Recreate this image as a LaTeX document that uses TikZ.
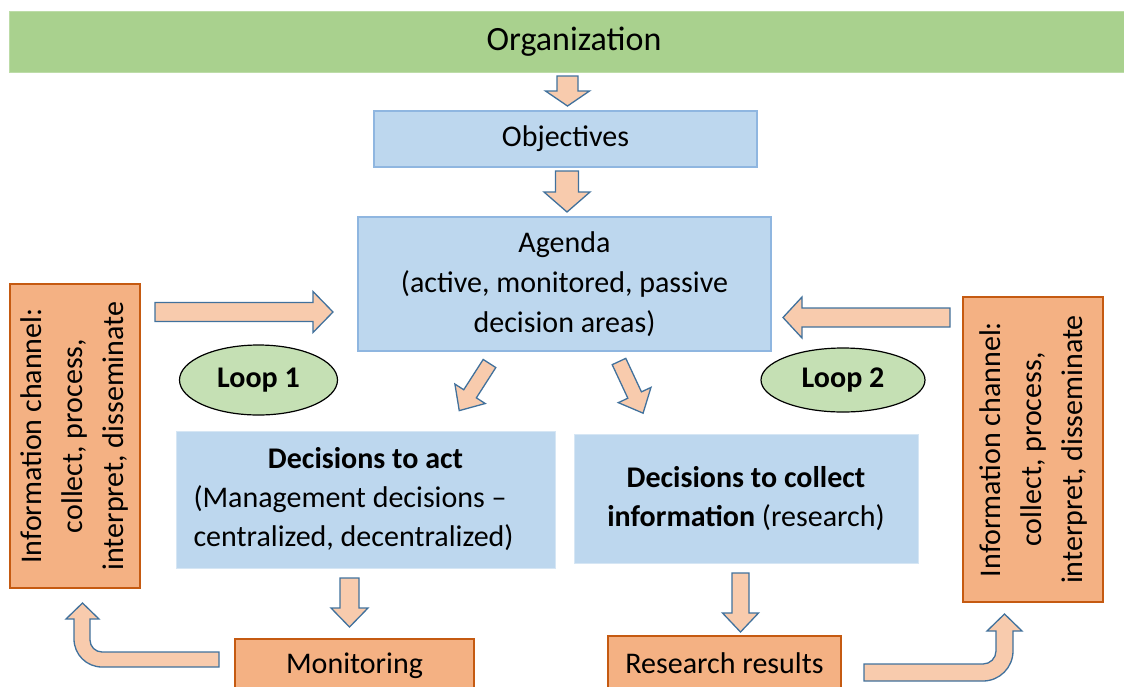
\documentclass[tikz,border=0pt]{standalone}
\usepackage{fontspec}
\setmainfont{Carlito}
\usetikzlibrary{shapes.geometric}
\definecolor{orgGreen}{HTML}{A9D18E}
\definecolor{orgGreenLine}{HTML}{BDDCA8}
\definecolor{boxBlue}{HTML}{BDD7EE}
\definecolor{boxBlueLine}{HTML}{8FB6E0}
\definecolor{decLine}{HTML}{D6E6F4}
\definecolor{boxOrange}{HTML}{F4B183}
\definecolor{boxOrangeLine}{HTML}{C55A11}
\definecolor{loopGreen}{HTML}{C5E0B4}
\definecolor{arrowFill}{HTML}{F8CBAD}
\definecolor{arrowLine}{HTML}{41719C}
% block arrow: tail x, tail y, angle, length, shaft width, head width, head length
\newcommand\barrow[7]{%
  \draw[barrowstyle, shift={(#1,#2)}, rotate=#3]
    (0,{-#5/2}) -- ({#4-#7},{-#5/2}) -- ({#4-#7},{-#6/2}) -- (#4,0)
    -- ({#4-#7},{#6/2}) -- ({#4-#7},{#5/2}) -- (0,{#5/2}) -- cycle;}
\begin{document}
\begin{tikzpicture}[x=1pt,y=-1pt,
  every node/.style={inner sep=0pt, outer sep=0pt},
  txt/.style={font=\fontsize{30pt}{40pt}\selectfont, align=center},
  greenbox/.style={txt, fill=orgGreen, draw=orgGreenLine, line width=1pt, anchor=north west},
  bluebox/.style={txt, fill=boxBlue, draw=boxBlueLine, line width=1.2pt, anchor=north west},
  decbox/.style={txt, fill=boxBlue, draw=decLine, line width=1pt, anchor=north west},
  orangebox/.style={txt, fill=boxOrange, draw=boxOrangeLine, line width=1.5pt},
  loopell/.style={txt, ellipse, fill=loopGreen, draw=black, line width=1.2pt, font=\fontsize{30pt}{40pt}\selectfont\bfseries},
  barrowstyle/.style={fill=arrowFill, draw=arrowLine, line width=1.3pt, line join=miter},
]
\useasboundingbox (0,0) rectangle (1124,686);
\clip (0,0) rectangle (1124,686);

% boxes
\node[greenbox, minimum width=1130pt, minimum height=61pt, font=\fontsize{34pt}{40pt}\selectfont] (org) at (9,11) {Organization};
\node[bluebox, minimum width=383pt, minimum height=56pt] (obj) at (374,111) {Objectives};
\node[bluebox, minimum width=413pt, minimum height=134pt] (agenda) at (358,217)
  {Agenda\\(active, monitored, passive\\decision areas)};
\node[decbox, minimum width=379pt, minimum height=137pt, align=left,
      font=\fontsize{30pt}{39pt}\selectfont] (act) at (176,431)
  {\makebox[344pt]{\bfseries Decisions to act}\\(Management decisions –\\centralized, decentralized)};
\node[decbox, minimum width=344pt, minimum height=129pt, font=\fontsize{30pt}{39pt}\selectfont] (collect) at (574,434)
  {\textbf{Decisions to collect}\\\textbf{information} (research)};
\node[orangebox, rotate=90, minimum width=304pt, minimum height=130pt, font=\fontsize{30pt}{41pt}\selectfont] (infoL) at (75,436)
  {Information channel:\\collect, process,\\interpret, disseminate};
\node[orangebox, rotate=90, minimum width=305pt, minimum height=140pt, font=\fontsize{30pt}{41pt}\selectfont] (infoR) at (1033,449.5)
  {Information channel:\\collect, process,\\interpret, disseminate};
\node[orangebox, anchor=north west, minimum width=239pt, minimum height=54pt] (mon) at (235,639) {Monitoring};
\node[orangebox, anchor=north west, minimum width=233pt, minimum height=54pt] (res) at (608,636) {Research results};

% loops
\node[loopell, minimum width=158pt, minimum height=70pt] (loop1) at (258.5,380) {Loop 1};
\node[loopell, minimum width=164pt, minimum height=64pt] (loop2) at (843,380) {Loop 2};

% block arrows
\barrow{567.5}{76}{-90}{30}{21}{44}{15}
\barrow{567}{171}{-90}{41}{23}{46}{20}
\barrow{155}{312}{0}{178}{19}{41}{20}
\barrow{950}{317.5}{180}{167}{19}{41}{19}
\barrow{489.5}{363.5}{-122.7}{56}{15}{36}{20}
\barrow{619}{361.5}{-65}{57}{15}{36}{20}
\barrow{349.5}{578}{-90}{49}{19}{37}{19}
\barrow{740.5}{573}{-90}{59}{17}{36}{19}

% bent arrow left (Monitoring -> left information channel)
\draw[barrowstyle] (219,652) -- (102,652) arc[start angle=90, end angle=180, radius=12]
  -- (90,619) -- (99,619) -- (82.5,603) -- (66,619) -- (74,619) -- (74,639)
  arc[start angle=180, end angle=90, radius=28] -- (219,667) -- cycle;
% bent arrow right (Research results -> right information channel)
\draw[barrowstyle] (864,664) -- (983,664) arc[start angle=90, end angle=0, radius=13]
  -- (996,631) -- (987,631) -- (1004.5,614) -- (1022,631) -- (1013,631) -- (1013,651)
  arc[start angle=0, end angle=90, radius=30] -- (864,681) -- cycle;
\end{tikzpicture}
\end{document}
